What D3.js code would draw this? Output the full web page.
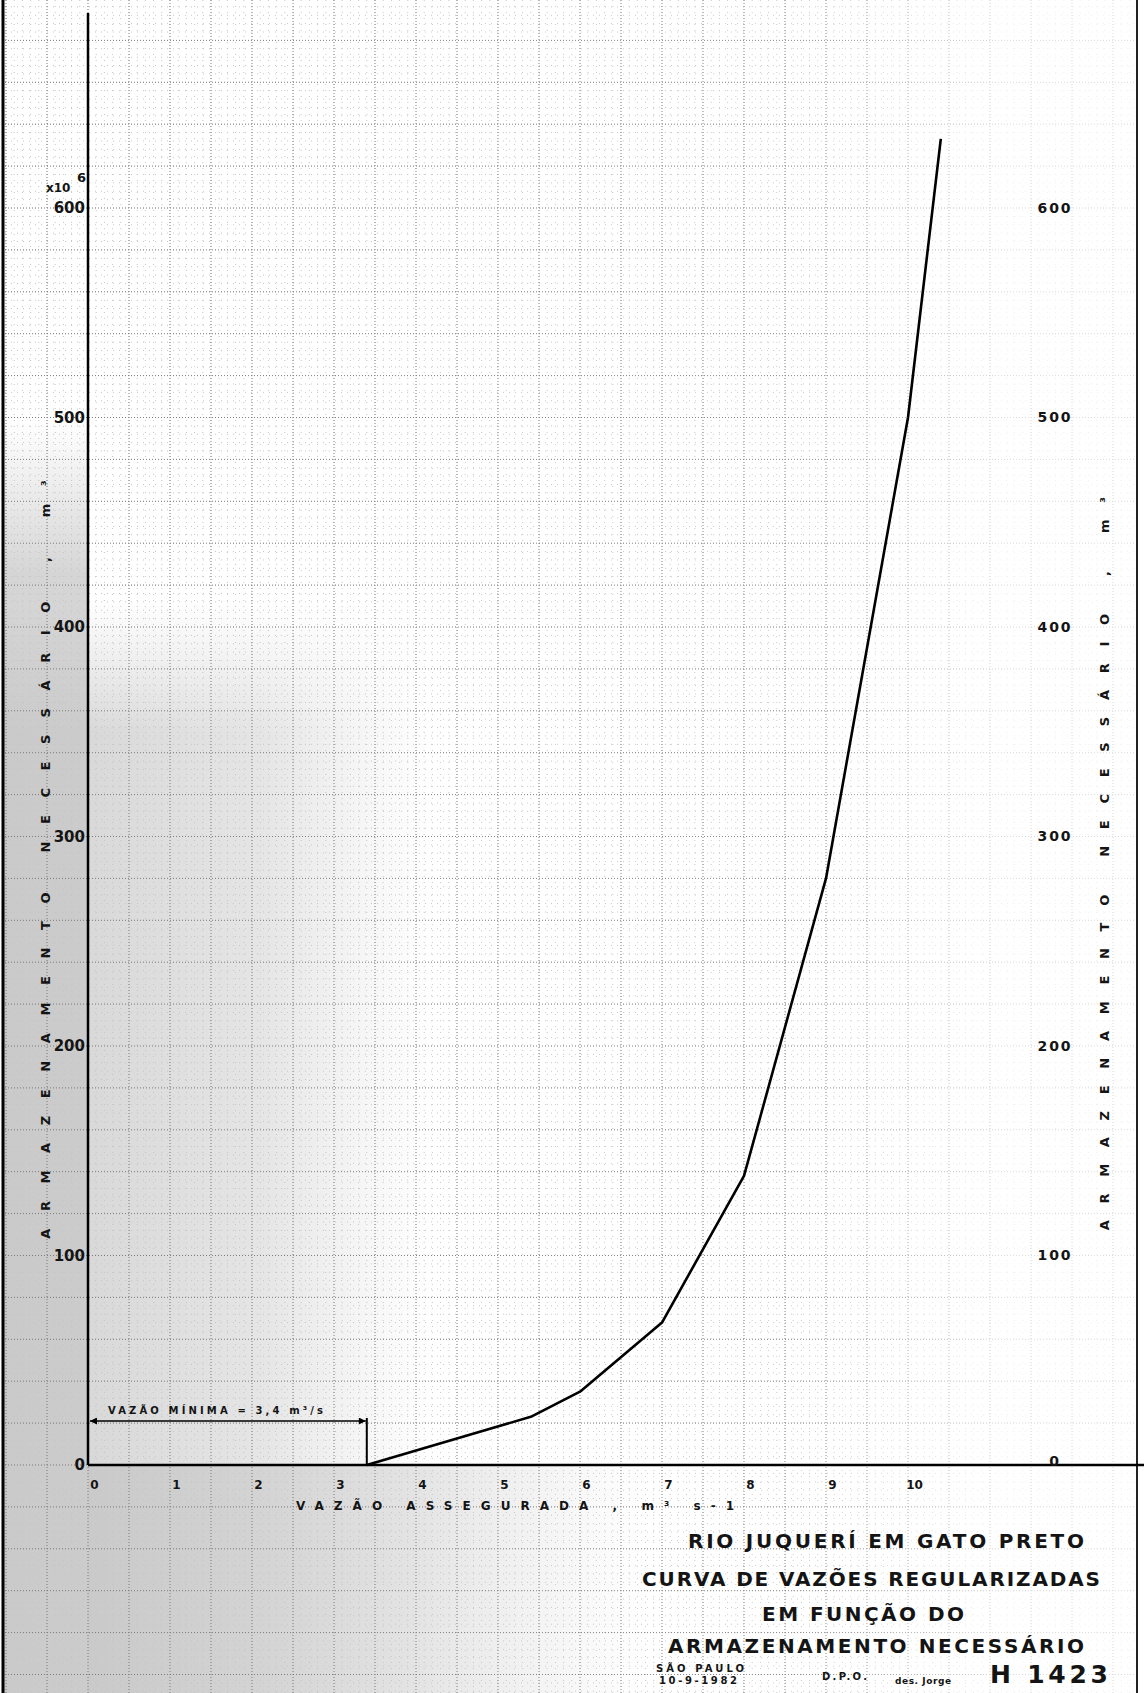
<!DOCTYPE html>
<html>
<head>
<meta charset="utf-8">
<script src="https://cdn.jsdelivr.net/npm/d3@7"></script>
<style>
  html, body { margin: 0; padding: 0; background: #fff; }
  svg { display: block; }
  text { font-family: "DejaVu Sans", sans-serif; font-weight: bold; fill: #141414; }
</style>
</head>
<body>
<div id="chart"></div>
<script>
// values
const vazao = [3.4, 5.4, 6.0, 7.0, 8.0, 9.0, 10.0, 10.4];          // m3/s
const armazenamento = [0, 23, 35, 68, 138, 280, 500, 633];        // x10^6 m3
const xTicks = [0, 1, 2, 3, 4, 5, 6, 7, 8, 9, 10];
const yTicks = [0, 100, 200, 300, 400, 500, 600];
const vazaoMinima = 3.4;
const cotaSeta = 21;
const tituloLinhas = ["RIO JUQUERÍ EM GATO PRETO", "CURVA DE VAZÕES REGULARIZADAS", "EM FUNÇÃO DO", "ARMAZENAMENTO NECESSÁRIO"];

draw();

function draw () {
  const width = 1144;
  const height = 1693;
  const left = 88;
  const right = 1137;

  const x = d3.scaleLinear().domain([0, 10]).range([88, 908]);
  const y = d3.scaleLinear().domain([0, 600]).range([1465, 208]);

  const svg = d3.select("#chart").append("svg")
    .attr("width", width).attr("height", height);

  const defs = svg.append("defs");

  // gray scan shading, heavier on the lower left
  const gH = defs.append("linearGradient").attr("id", "shadeH");
  gH.append("stop").attr("offset", "0%").attr("stop-color", "#c6c6c6").attr("stop-opacity", 0.8);
  gH.append("stop").attr("offset", "60%").attr("stop-color", "#d0d0d0").attr("stop-opacity", 0.55);
  gH.append("stop").attr("offset", "100%").attr("stop-color", "#d8d8d8").attr("stop-opacity", 0);

  const gV = defs.append("linearGradient").attr("id", "shadeV")
    .attr("x1", 0).attr("y1", 0).attr("x2", 0).attr("y2", 1);
  gV.append("stop").attr("offset", "0%").attr("stop-color", "#000");
  gV.append("stop").attr("offset", "12%").attr("stop-color", "#fff");
  gV.append("stop").attr("offset", "100%").attr("stop-color", "#fff");
  defs.append("mask").attr("id", "topFade").attr("maskContentUnits", "objectBoundingBox")
    .append("rect").attr("width", 1).attr("height", 1).attr("fill", "url(#shadeV)");

  const shade = svg.append("g");
  shade.append("rect").attr("x", 4).attr("y", 600).attr("width", 430).attr("height", height - 600)
    .attr("fill", "url(#shadeH)").attr("mask", "url(#topFade)");
  shade.append("rect").attr("x", left).attr("y", y(0)).attr("width", 560).attr("height", height - y(0))
    .attr("fill", "url(#shadeH)");
  shade.append("rect").attr("x", 4).attr("y", 420).attr("width", left - 4).attr("height", height - 420)
    .attr("fill", "#c8c8c8").attr("opacity", 0.75).attr("mask", "url(#topFade)");

  // graph paper, lighter toward the right edge
  const fade = defs.append("linearGradient").attr("id", "fade");
  fade.append("stop").attr("offset", "0%").attr("stop-color", "#fff");
  fade.append("stop").attr("offset", "70%").attr("stop-color", "#ddd");
  fade.append("stop").attr("offset", "88%").attr("stop-color", "#444");
  defs.append("mask").attr("id", "paperMask")
    .append("rect").attr("width", width).attr("height", height).attr("fill", "url(#fade)");

  const paper = svg.append("g").attr("mask", "url(#paperMask)");
  const inX = v => x(v) > 5 && x(v) < right - 1;
  const inY = v => y(v) > 0 && y(v) < height;

  const minorX = d3.range(-1.1, 14, 0.1).filter(inX);
  const minorY = d3.range(-124, 700, 4).filter(inY);
  const majorX = d3.range(-1, 14, 0.5).filter(inX);
  const majorY = d3.range(-120, 700, 20).filter(inY);

  paper.selectAll("line.minx").data(minorX).enter().append("line")
    .attr("x1", d => x(d)).attr("x2", d => x(d)).attr("y1", 0).attr("y2", height)
    .attr("stroke", "#c4c4c4").attr("stroke-dasharray", "1,5").attr("stroke-width", 1);
  paper.selectAll("line.miny").data(minorY).enter().append("line")
    .attr("y1", d => y(d)).attr("y2", d => y(d)).attr("x1", 5).attr("x2", right)
    .attr("stroke", "#c4c4c4").attr("stroke-dasharray", "1,5").attr("stroke-width", 1);
  paper.selectAll("line.majx").data(majorX).enter().append("line")
    .attr("x1", d => x(d)).attr("x2", d => x(d)).attr("y1", 0).attr("y2", height)
    .attr("stroke", "#7a7a7a").attr("stroke-dasharray", "1,2").attr("stroke-width", 1);
  paper.selectAll("line.majy").data(majorY).enter().append("line")
    .attr("y1", d => y(d)).attr("y2", d => y(d)).attr("x1", 5).attr("x2", right)
    .attr("stroke", "#7a7a7a").attr("stroke-dasharray", "1,2").attr("stroke-width", 1);

  // sheet borders
  svg.append("line").attr("x1", 3).attr("x2", 3).attr("y1", 0).attr("y2", height)
    .attr("stroke", "#000").attr("stroke-width", 3);
  svg.append("line").attr("x1", right).attr("x2", right).attr("y1", 0).attr("y2", height)
    .attr("stroke", "#222").attr("stroke-width", 2);

  // axis lines
  svg.append("line").attr("x1", x(0)).attr("x2", x(0)).attr("y1", 13).attr("y2", y(0))
    .attr("stroke", "#000").attr("stroke-width", 2.5);
  svg.append("line").attr("x1", x(0)).attr("x2", width).attr("y1", y(0)).attr("y2", y(0))
    .attr("stroke", "#000").attr("stroke-width", 2.5);

  // left tick labels
  const yAxisL = svg.append("g").attr("transform", `translate(${x(0)},0)`)
    .call(d3.axisLeft(y).tickValues(yTicks).tickSize(0).tickPadding(3));
  yAxisL.select(".domain").remove();
  yAxisL.selectAll("text").attr("font-size", 15).attr("font-family", "DejaVu Sans")
    .attr("font-weight", "bold").attr("fill", "#111");

  svg.append("text").attr("x", 46).attr("y", 192).attr("font-size", 12).text("x10");
  svg.append("text").attr("x", 77).attr("y", 182).attr("font-size", 13).text("6");

  // right tick labels
  const yAxisR = svg.append("g").attr("transform", "translate(1040,0)")
    .call(d3.axisRight(y).tickValues(yTicks).tickSize(0).tickPadding(15));
  yAxisR.select(".domain").remove();
  yAxisR.selectAll("text").attr("font-size", 14).attr("text-anchor", "middle")
    .attr("letter-spacing", 2)
    .attr("font-family", "DejaVu Sans").attr("font-weight", "bold").attr("fill", "#222")
    .attr("dy", d => d === 0 ? "0" : "0.32em");

  // bottom tick labels
  const xAxis = svg.append("g").attr("transform", `translate(0,${y(0)})`)
    .call(d3.axisBottom(x).tickValues(xTicks).tickSize(0).tickPadding(15));
  xAxis.select(".domain").remove();
  xAxis.selectAll("text").attr("font-size", 12).attr("dx", 6)
    .attr("font-family", "DejaVu Sans").attr("font-weight", "bold").attr("fill", "#111");

  // axis titles
  svg.append("text").attr("x", 296).attr("y", 1510).attr("font-size", 12)
    .attr("textLength", 438).attr("lengthAdjust", "spacing")
    .text("VAZÃO  ASSEGURADA , m³ s-1");

  const ladoY = [{cx: 45, y0: y(108), y1: y(470)}, {cx: 1104, y0: y(112), y1: y(462)}];
  ladoY.forEach(s => {
    svg.append("text")
      .attr("transform", `translate(${s.cx},${s.y0}) rotate(-90)`)
      .attr("font-size", 13).attr("dy", "0.35em")
      .attr("textLength", s.y0 - s.y1).attr("lengthAdjust", "spacing")
      .text("ARMAZENAMENTO  NECESSÁRIO , m³");
  });

  // minimum flow dimension
  defs.append("marker").attr("id", "arrow").attr("viewBox", "0 0 10 10")
    .attr("refX", 10).attr("refY", 5).attr("markerWidth", 9).attr("markerHeight", 7)
    .attr("orient", "auto-start-reverse").attr("markerUnits", "userSpaceOnUse")
    .append("path").attr("d", "M0,0L10,5L0,10z").attr("fill", "#000");

  svg.append("line").attr("x1", x(vazaoMinima)).attr("x2", x(vazaoMinima))
    .attr("y1", y(0)).attr("y2", y(cotaSeta) - 3)
    .attr("stroke", "#000").attr("stroke-width", 2);
  svg.append("line").attr("x1", x(0) + 2).attr("x2", x(vazaoMinima) - 1)
    .attr("y1", y(cotaSeta)).attr("y2", y(cotaSeta))
    .attr("stroke", "#000").attr("stroke-width", 1.5)
    .attr("marker-start", "url(#arrow)").attr("marker-end", "url(#arrow)");
  svg.append("text").attr("x", 108).attr("y", y(cotaSeta) - 7).attr("font-size", 10)
    .attr("textLength", 215).attr("lengthAdjust", "spacing")
    .text("VAZÃO  MÍNIMA  =  3,4 m³/s");

  // curve
  const pts = vazao.map((v, i) => ({q: v, s: armazenamento[i]}));
  svg.append("path").datum(pts)
    .attr("fill", "none").attr("stroke", "#000").attr("stroke-width", 2.6)
    .attr("stroke-linejoin", "round")
    .attr("d", d3.line().x(d => x(d.q)).y(d => y(d.s)));

  // title block
  const titulo = [
    {x: 688, y: 1548, w: 396},
    {x: 642, y: 1586, w: 458},
    {x: 762, y: 1621, w: 202},
    {x: 668, y: 1653, w: 416}
  ];
  svg.selectAll("text.titulo").data(tituloLinhas).enter().append("text")
    .attr("class", "titulo")
    .attr("x", (d, i) => titulo[i].x).attr("y", (d, i) => titulo[i].y)
    .attr("textLength", (d, i) => titulo[i].w).attr("lengthAdjust", "spacing")
    .attr("font-size", 20).attr("fill", "#0a0a0a")
    .text(d => d);

  svg.append("text").attr("x", 656).attr("y", 1672).attr("font-size", 10)
    .attr("textLength", 88).attr("lengthAdjust", "spacing").text("SÃO PAULO");
  svg.append("text").attr("x", 659).attr("y", 1684).attr("font-size", 10)
    .attr("textLength", 78).attr("lengthAdjust", "spacing").text("10-9-1982");
  svg.append("text").attr("x", 822).attr("y", 1680).attr("font-size", 10)
    .attr("textLength", 45).attr("lengthAdjust", "spacing").text("D.P.O.");
  svg.append("text").attr("x", 895).attr("y", 1684).attr("font-size", 9)
    .attr("textLength", 56).attr("lengthAdjust", "spacing").text("des. Jorge");
  svg.append("text").attr("x", 990).attr("y", 1683).attr("font-size", 25)
    .attr("textLength", 118).attr("lengthAdjust", "spacing").text("H 1423");
}
</script>
</body>
</html>
